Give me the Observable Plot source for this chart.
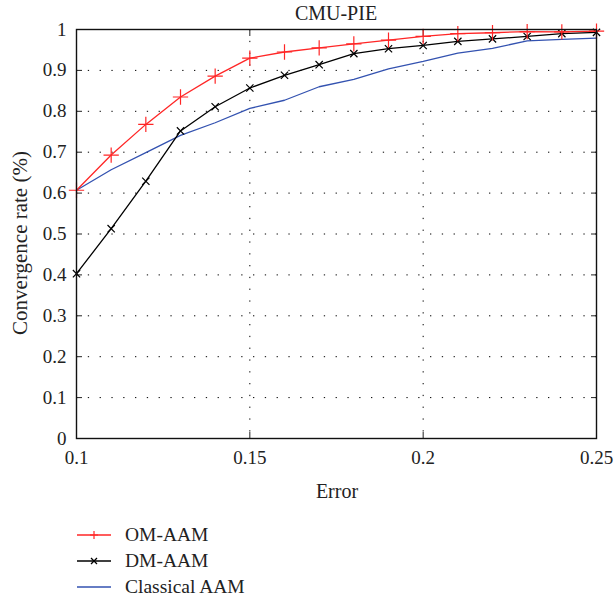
<!DOCTYPE html>
<html>
<head>
<meta charset="utf-8">
<script src="https://cdn.jsdelivr.net/npm/d3@7"></script>
<script src="https://cdn.jsdelivr.net/npm/@observablehq/plot@0.6"></script>
<style>
  html, body { margin: 0; padding: 0; background: #fff; }
  #wrap { position: relative; width: 616px; height: 600px; font-family: "Liberation Serif", serif !important; color: #222; }
  #wrap *, #wrap svg text { font-family: "Liberation Serif", serif !important; }
  .abs { position: absolute; white-space: nowrap; }
  #title { left: 76px; width: 520px; top: 0; line-height: 27px; text-align: center; font-size: 20px; }
  #ylab { left: 20px; top: 243px; font-size: 21px; transform: translate(-50%, -50%) rotate(-90deg); }
  #xlab { left: 337px; top: 491px; font-size: 20px; transform: translate(-50%, -50%); }
  .leg { left: 77px; height: 26px; display: flex; align-items: center; font-size: 19.5px; }
  .leg svg { margin-right: 14px; }
</style>
</head>
<body>
<div id="wrap">
  <div id="chart" class="abs" style="left:0;top:0"></div>
  <div id="title" class="abs"></div>
  <div id="ylab" class="abs"></div>
  <div id="xlab" class="abs"></div>
  <div id="legend"></div>
</div>
<script>
const chartTitle = "CMU-PIE";
const xLabel = "Error";
const yLabel = "Convergence rate (%)";

const errors = [0.10, 0.11, 0.12, 0.13, 0.14, 0.15, 0.16, 0.17, 0.18, 0.19, 0.20, 0.21, 0.22, 0.23, 0.24, 0.25];
const omAam = [0.607, 0.693, 0.768, 0.835, 0.886, 0.930, 0.945, 0.955, 0.965, 0.974, 0.983, 0.990, 0.992, 0.995, 0.994, 0.996];
const dmAam = [0.403, 0.513, 0.629, 0.752, 0.811, 0.857, 0.888, 0.914, 0.941, 0.953, 0.961, 0.971, 0.977, 0.983, 0.990, 0.993];
const classicalAam = [0.607, 0.657, 0.699, 0.741, 0.772, 0.807, 0.827, 0.860, 0.878, 0.904, 0.922, 0.942, 0.954, 0.972, 0.976, 0.979];

const seriesNames = ["OM-AAM", "DM-AAM", "Classical AAM"];
const seriesColors = ["#ff2626", "#000000", "#3352b0"];
const seriesSymbols = ["plus", "times", null];

const xTicks = [0.1, 0.15, 0.2, 0.25];
const xTickLabels = ["0.1", "0.15", "0.2", "0.25"];
const yTicks = [0, 0.1, 0.2, 0.3, 0.4, 0.5, 0.6, 0.7, 0.8, 0.9, 1];
const yTickLabels = ["0", "0.1", "0.2", "0.3", "0.4", "0.5", "0.6", "0.7", "0.8", "0.9", "1"];
const xGrid = [0.15, 0.2];
const yGrid = [0.1, 0.2, 0.3, 0.4, 0.5, 0.6, 0.7, 0.8, 0.9];

const serif = "'Liberation Serif', serif";
const seriesValues = [omAam, dmAam, classicalAam];
const rows = (vals) => errors.map((e, i) => ({x: e, y: vals[i]}));

const marks = [
  Plot.gridX(xGrid, {stroke: "#000", strokeOpacity: 1, strokeWidth: 1, strokeDasharray: "1.3,10.5"}),
  Plot.gridY(yGrid, {stroke: "#000", strokeOpacity: 1, strokeWidth: 1, strokeDasharray: "1.3,10.5"}),
  Plot.axisX({anchor: "bottom", ticks: xTicks, tickSize: -6, tickPadding: 17.5, tickFormat: (d) => xTickLabels[xTicks.indexOf(d)], label: null, fontSize: 19, fontFamily: serif, fill: "#222"}),
  Plot.axisX({anchor: "top", ticks: xTicks, tickSize: -6, tickFormat: () => "", label: null}),
  Plot.axisY({anchor: "left", ticks: yTicks, tickSize: -6, tickPadding: 16, tickFormat: (d) => yTickLabels[yTicks.indexOf(d)], label: null, fontSize: 19, fontFamily: serif, fill: "#222"}),
  Plot.axisY({anchor: "right", ticks: yTicks, tickSize: -6, tickFormat: () => "", label: null})
];

[2, 1, 0].forEach((k) => {
  const data = rows(seriesValues[k]);
  marks.push(Plot.line(data, {x: "x", y: "y", stroke: seriesColors[k], strokeWidth: 1.3}));
  if (seriesSymbols[k]) {
    marks.push(Plot.dot(data, {x: "x", y: "y", symbol: seriesSymbols[k], stroke: seriesColors[k], strokeWidth: 1.2, r: seriesSymbols[k] === "plus" ? 5 : 3.4}));
  }
});

marks.push(Plot.frame({stroke: "#111", strokeWidth: 1.4}));

const chart = Plot.plot({
  width: 616,
  height: 510,
  marginLeft: 76,
  marginRight: 20,
  marginTop: 29,
  marginBottom: 72,
  style: {fontFamily: serif, fontSize: "19px", color: "#222", background: "transparent", overflow: "visible"},
  x: {domain: [0.1, 0.25]},
  y: {domain: [0, 1]},
  marks
});
document.getElementById("chart").appendChild(chart);

document.getElementById("title").textContent = chartTitle;
document.getElementById("ylab").textContent = yLabel;
document.getElementById("xlab").textContent = xLabel;

const legendCenters = [535, 561, 587];
const legend = document.getElementById("legend");
seriesNames.forEach((name, k) => {
  const row = document.createElement("div");
  row.className = "abs leg";
  row.style.top = (legendCenters[k] - 13) + "px";
  const sym = seriesSymbols[k];
  let marker = "";
  if (sym === "plus") marker = `<path d="M17,-4V4M13,0H21" stroke="${seriesColors[k]}" stroke-width="1.2" transform="translate(0,13)"/>`;
  if (sym === "times") marker = `<path d="M14,10L20,16M14,16L20,10" stroke="${seriesColors[k]}" stroke-width="1.3"/>`;
  row.innerHTML = `<svg width="34" height="26"><line x1="0" x2="34" y1="13" y2="13" stroke="${seriesColors[k]}" stroke-width="1.3"/>${marker}</svg><span>${name}</span>`;
  legend.appendChild(row);
});
</script>
</body>
</html>
